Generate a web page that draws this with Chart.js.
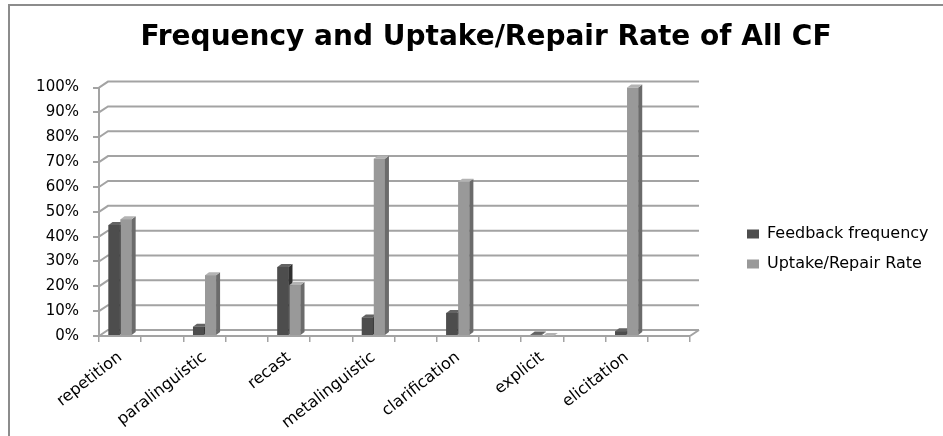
<!DOCTYPE html>
<html><head><meta charset="utf-8">
<script src="https://cdn.jsdelivr.net/npm/chart.js@4"></script>
<style>
html,body{margin:0;padding:0;background:#fff;overflow:hidden}
#wrap{position:relative;width:943px;height:436px}
#frame{position:absolute;left:8px;top:4px;width:1000px;height:500px;border:2px solid #8c8c8c;box-sizing:border-box;pointer-events:none}
canvas{position:absolute;left:0;top:0}
</style></head><body>
<div id="wrap"><canvas id="c" width="943" height="436"></canvas><div id="frame"></div></div>
<script>
const categories = ['repetition', 'paralinguistic', 'recast', 'metalinguistic', 'clarification', 'explicit', 'elicitation'];
const feedbackFrequency = [44.7, 3.7, 27.8, 7.4, 9.3, 0.6, 1.9];
const uptakeRepairRate = [47, 24.5, 20.5, 71.4, 62.1, 0, 100];
const seriesNames = ['Feedback frequency', 'Uptake/Repair Rate'];
const chartTitle = 'Frequency and Uptake/Repair Rate of All CF';

// Each category is followed by an empty slot, as in the original axis
const slotLabels = categories.flatMap(c => [c, '']);
const spread = arr => arr.flatMap(v => [v, null]);

const FONT = 'DejaVu Sans';
const GRID = '#a3a3a3';
const depth = {dx: 9, dy: 6};
const barDepth = {dx: 4, dy: 3};

const grid3d = {
  id: 'grid3d',
  beforeDatasetsDraw(chart) {
    const {ctx, chartArea: a, scales: {y}} = chart;
    ctx.save();
    ctx.strokeStyle = GRID; ctx.lineWidth = 2;
    y.ticks.forEach(t => {
      const py = y.getPixelForValue(t.value);
      ctx.beginPath();
      ctx.moveTo(a.left, py);
      ctx.lineTo(a.left + depth.dx, py - depth.dy);
      ctx.lineTo(a.right + depth.dx, py - depth.dy);
      ctx.stroke();
    });
    const pb = y.getPixelForValue(0);
    ctx.beginPath();
    ctx.moveTo(a.right, pb);
    ctx.lineTo(a.right + depth.dx, pb - depth.dy);
    ctx.stroke();
    ctx.restore();
  }
};

// Adds the side and top faces of each column, in series order so that later
// columns sit in front of earlier ones.
const bar3d = {
  id: 'bar3d',
  afterDatasetsDraw(chart) {
    const ctx = chart.ctx;
    ctx.save();
    chart.data.datasets.forEach((ds, i) => {
      const meta = chart.getDatasetMeta(i);
      meta.data.forEach((el, j) => {
        if (ds.data[j] == null) return;
        const {x, y, base, width} = el.getProps(['x', 'y', 'base', 'width'], true);
        const l = x - width / 2, r = x + width / 2;
        const dx = barDepth.dx, dy = barDepth.dy;
        ctx.fillStyle = ds.backgroundColor;
        ctx.fillRect(l, Math.min(y, base), width, Math.abs(base - y));
        ctx.fillStyle = ds.sideColor;
        ctx.beginPath();
        ctx.moveTo(r, y); ctx.lineTo(r + dx, y - dy); ctx.lineTo(r + dx, base - dy); ctx.lineTo(r, base);
        ctx.closePath(); ctx.fill();
        ctx.fillStyle = ds.topColor;
        ctx.beginPath();
        ctx.moveTo(l, y); ctx.lineTo(l + dx, y - dy); ctx.lineTo(r + dx, y - dy); ctx.lineTo(r, y);
        ctx.closePath(); ctx.fill();
      });
    });
    ctx.restore();
  }
};

new Chart(document.getElementById('c'), {
  type: 'bar',
  data: {
    labels: slotLabels,
    datasets: [
      {label: seriesNames[0], data: spread(feedbackFrequency), backgroundColor: '#4d4d4d', sideColor: '#303030', topColor: '#636363',
       categoryPercentage: 0.57, barPercentage: 0.92},
      {label: seriesNames[1], data: spread(uptakeRepairRate), backgroundColor: '#999999', sideColor: '#6b6b6b', topColor: '#b3b3b3',
       categoryPercentage: 0.57, barPercentage: 0.92}
    ]
  },
  options: {
    responsive: false,
    animation: false,
    events: [],
    layout: {padding: {left: 34, right: 5, top: 0, bottom: 0}},
    plugins: {
      title: {display: true, text: chartTitle, color: '#000',
        font: {family: FONT, size: 28, weight: 'bold'}, padding: {top: 21, bottom: 33}},
      legend: {position: 'right', maxWidth: 205,
        title: {display: true, text: ' ', font: {size: 10}, padding: {top: 50, bottom: 0}},
        labels: {boxWidth: 12, boxHeight: 9, color: '#000', font: {family: FONT, size: 16}, padding: 14}},
      tooltip: {enabled: false}
    },
    scales: {
      x: {
        grid: {drawOnChartArea: false, drawTicks: true, tickLength: 6, offset: true, color: GRID, lineWidth: 1.5},
        border: {color: GRID, width: 2},
        ticks: {autoSkip: false, minRotation: 38, maxRotation: 38, color: '#000', font: {family: FONT, size: 16}, padding: 6},
        afterFit: s => { s.height = 100; }
      },
      y: {
        min: 0, max: 100,
        grid: {drawOnChartArea: false, drawTicks: true, tickLength: 6, color: GRID, lineWidth: 2},
        border: {color: GRID, width: 2},
        ticks: {stepSize: 10, color: '#000', font: {family: FONT, size: 15}, padding: 14, callback: v => v + '%'},
        afterFit: s => { s.width = 65; }
      },
      y2: {
        type: 'linear', position: 'right', display: true,
        grid: {display: false}, border: {display: false}, ticks: {display: false},
        afterFit: s => { s.width = 43; }
      }
    }
  },
  plugins: [grid3d, bar3d]
});
</script>
</body></html>
